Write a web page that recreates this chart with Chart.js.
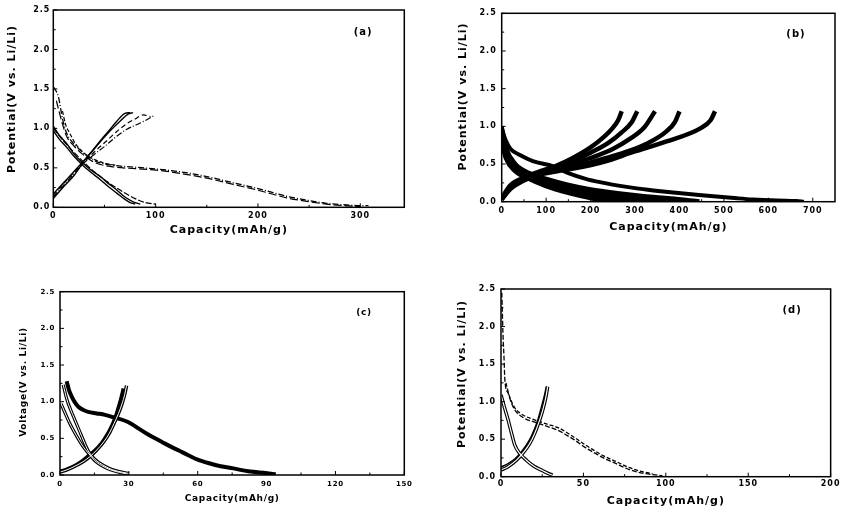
<!DOCTYPE html>
<html><head><meta charset="utf-8">
<script src="https://cdn.jsdelivr.net/npm/chart.js@4/dist/chart.umd.min.js"></script>
<style>
html,body{margin:0;padding:0;background:#fff;width:843px;height:510px;overflow:hidden;}
canvas{position:absolute;}
</style></head><body>
<canvas id="ca"></canvas><canvas id="cb"></canvas><canvas id="cc"></canvas><canvas id="cd"></canvas>
<script>
// ---------- tick values ----------
const yTicksAll = [0, 0.5, 1.0, 1.5, 2.0, 2.5];
const yMinorAll = [0.25, 0.75, 1.25, 1.75, 2.25];
const aXTicks = [0, 100, 200, 300];
const aXMinor = [50, 150, 250];
const bXTicks = [0, 100, 200, 300, 400, 500, 600, 700];
const bXMinor = [50, 150, 250, 350, 450, 550, 650];
const cXTicks = [0, 30, 60, 90, 120, 150];
const cXMinor = [15, 45, 75, 105, 135];
const dXTicks = [0, 50, 100, 150, 200];
const dXMinor = [25, 75, 125, 175];

// ---------- panel (a): [capacity mAh/g, potential V] ----------
const aDis1 = [[0.5,1.52],[5,1.4],[9,1.12],[13,0.94],[19,0.82],[26,0.73],[34,0.64],[42,0.58],[60,0.53],[78,0.51],[101,0.485],[124,0.45],[150,0.39],[176,0.31],[202,0.23],[228,0.14],[248,0.09],[267,0.05],[287,0.03],[300,0.02],[308,0.02]];
const aDis1b = [[3,1.35],[8,1.1],[13,0.9],[20,0.78],[28,0.68],[40,0.57],[60,0.51],[80,0.49],[101,0.47],[124,0.43],[150,0.37],[176,0.29],[202,0.21],[228,0.12],[248,0.075],[267,0.04],[285,0.02],[300,0.01]];
const aDis2 = [[9,1.22],[12,1.05],[16,0.94],[22,0.8],[29,0.7],[38,0.62],[50,0.56],[62,0.53]];
const aDis3 = [[0,1.03],[6,0.91],[13,0.81],[20,0.68],[29,0.56],[37,0.47],[46,0.39],[54,0.3],[62,0.22],[70,0.13],[78,0.07],[85,0.04]];
const aDis4 = [[0,0.97],[6,0.86],[13,0.76],[20,0.65],[29,0.53],[37,0.44],[46,0.35],[54,0.26],[62,0.18],[70,0.1],[75,0.06],[80,0.04]];
const aDis5 = [[0,1.0],[10,0.84],[20,0.7],[30,0.57],[40,0.45],[50,0.35],[60,0.26],[70,0.18],[80,0.11],[90,0.06],[100,0.04]];
const aChg1 = [[0,0.11],[10,0.26],[20,0.4],[26,0.51],[32,0.62],[39,0.73],[47,0.86],[55,0.98],[62,1.09],[70,1.19],[75,1.2]];
const aChg2 = [[0,0.17],[10,0.31],[20,0.45],[27,0.55],[34,0.65],[42,0.77],[50,0.89],[58,1.0],[66,1.1],[73,1.18],[78,1.2]];
const aChg3 = [[0,0.13],[10,0.28],[20,0.42],[30,0.56],[40,0.67],[50,0.77],[62,0.9],[72,0.99],[82,1.05],[90,1.1],[98,1.16]];
const aChg4 = [[0,0.15],[10,0.3],[20,0.44],[30,0.57],[40,0.7],[52,0.84],[62,0.96],[72,1.06],[80,1.12],[88,1.17],[95,1.15]];

// ---------- panel (b) ----------
const bDis1 = [[0,1.0],[2,0.95],[4,0.9],[10,0.8],[20,0.7],[41,0.62],[70,0.54],[116,0.47],[150,0.38],[191,0.3],[230,0.25],[266,0.21],[300,0.18],[341,0.15],[380,0.125],[415,0.105],[450,0.085],[490,0.065],[530,0.045],[565,0.03],[620,0.015],[663,0.008],[680,0.0]];
const bDis2 = [[0,0.95],[10,0.7],[30,0.5],[60,0.38],[100,0.3],[150,0.22],[200,0.16],[260,0.11],[320,0.07],[380,0.04],[445,0.0]];
const bDis3 = [[0,0.9],[10,0.66],[30,0.47],[60,0.36],[100,0.27],[150,0.19],[200,0.13],[260,0.08],[320,0.04],[370,0.0]];
const bDis4 = [[0,0.88],[10,0.63],[30,0.45],[60,0.35],[100,0.25],[150,0.16],[200,0.1],[260,0.05],[320,0.0]];
const bDis5 = [[0,0.85],[10,0.6],[30,0.43],[60,0.33],[100,0.23],[150,0.14],[200,0.08],[240,0.04],[280,0.0]];
const bDis6 = [[0,0.8],[10,0.58],[30,0.41],[60,0.31],[100,0.21],[150,0.12],[200,0.05],[235,0.0]];
const bChg1 = [[0,0.05],[20,0.22],[50,0.32],[80,0.39],[120,0.47],[160,0.58],[200,0.72],[230,0.86],[250,0.98],[262,1.08],[270,1.2]];
const bChg2 = [[0,0.04],[20,0.2],[50,0.31],[80,0.38],[120,0.45],[160,0.54],[200,0.65],[240,0.78],[270,0.92],[292,1.05],[305,1.2]];
const bChg3 = [[0,0.04],[20,0.19],[50,0.3],[80,0.37],[120,0.43],[160,0.5],[200,0.58],[250,0.7],[290,0.84],[320,0.98],[345,1.2]];
const bChg4 = [[0,0.03],[20,0.18],[50,0.29],[80,0.36],[130,0.42],[180,0.49],[230,0.57],[280,0.66],[330,0.78],[370,0.93],[390,1.06],[400,1.2]];
const bChg5 = [[0,0.03],[20,0.17],[50,0.28],[80,0.35],[130,0.41],[161,0.44],[230,0.53],[296,0.66],[371,0.8],[446,0.97],[470,1.08],[480,1.2]];

// ---------- panel (c) ----------
const cDisLong = [[2.9,1.28],[4,1.15],[5.1,1.07],[6.5,0.99],[8,0.93],[10,0.89],[12.3,0.86],[16,0.84],[19.6,0.82],[24,0.78],[28.3,0.74],[31,0.7],[34,0.64],[37.5,0.57],[41.4,0.5],[45,0.44],[48.7,0.38],[52,0.33],[55.9,0.27],[60,0.21],[65,0.16],[70,0.12],[75.5,0.09],[82,0.05],[90,0.025],[94,0.01]];
const cDisShort1 = [[1.4,1.23],[3,1.03],[4.5,0.9],[6.5,0.75],[8.5,0.6],[10.5,0.45],[12.3,0.33],[15,0.22],[19.6,0.12],[23,0.07],[26.9,0.04],[30,0.02]];
const cDisShort2 = [[0.5,0.97],[2,0.86],[4,0.72],[6,0.6],[8,0.49],[10,0.39],[12.3,0.3],[15,0.2],[18,0.13],[22,0.07],[26,0.035],[29,0.015]];
const cChg1 = [[0,0.05],[3,0.08],[6.5,0.13],[9.5,0.19],[12.3,0.26],[15,0.33],[18.2,0.44],[20.5,0.55],[22.5,0.67],[24,0.78],[25.4,0.92],[26.6,1.05],[27.6,1.18]];
const cChg2 = [[0,0.04],[3,0.07],[6.5,0.12],[10,0.18],[13,0.25],[16,0.34],[19,0.45],[21.5,0.57],[23.5,0.7],[25.5,0.84],[27,0.97],[28.2,1.1],[29,1.22]];

// ---------- panel (d) ----------
const dDisLong = [[0.5,2.45],[1.2,1.9],[1.8,1.6],[2.4,1.27],[4.4,1.11],[6.5,0.97],[9.4,0.86],[14,0.78],[21.4,0.72],[28,0.67],[35.3,0.61],[40,0.55],[45.3,0.48],[51,0.39],[57.3,0.31],[63,0.24],[69.3,0.18],[75,0.12],[81.3,0.07],[88,0.04],[95.2,0.02],[98,0.01]];
const dDisLong2 = [[3,1.25],[5,1.08],[8,0.93],[12,0.84],[20,0.76],[28,0.7],[35,0.65],[42,0.56],[48,0.47],[55,0.37],[62,0.28],[70,0.2],[78,0.12],[85,0.07],[92,0.04]];
const dDisShort = [[0,1.09],[2,0.93],[4.4,0.75],[6.5,0.57],[8.4,0.42],[11,0.32],[15.4,0.22],[20,0.14],[25.3,0.08],[28,0.05],[31.3,0.02]];
const dChg1 = [[0,0.09],[4,0.13],[9.4,0.22],[13.5,0.32],[17.4,0.44],[20.5,0.58],[23.4,0.75],[25.5,0.9],[27.4,1.08],[28.3,1.2]];
const dChg2 = [[0,0.13],[4,0.17],[9,0.25],[13,0.35],[17,0.48],[20,0.62],[22.5,0.77],[24.5,0.93],[26.3,1.08],[27.5,1.2]];

// ---------- helpers ----------
function ds(points, opts) {
  return Object.assign({
    data: points.map(p => ({x: p[0], y: p[1]})),
    showLine: true, pointRadius: 0, borderColor: '#000', borderWidth: 1.2,
    fill: false, cubicInterpolationMode: 'monotone', order: 2
  }, opts || {});
}
function dbl(points, wOuter, wInner, dash) {
  return [
    ds(points, {borderWidth: wOuter, order: 2, borderDash: dash || []}),
    ds(points, {borderWidth: wInner, borderColor: '#fff', order: 1})
  ];
}

const spacingPlugin = {
  id: 'spacing',
  beforeUpdate(chart) { chart.ctx.letterSpacing = chart.options.plugins.frame.spacing; },
  beforeDraw(chart) { chart.ctx.letterSpacing = chart.options.plugins.frame.spacing; }
};

const framePlugin = {
  id: 'frame',
  afterDraw(chart) {
    const c = chart.ctx, a = chart.chartArea, o = chart.options.plugins.frame;
    const xs = chart.scales.x, ys = chart.scales.y;
    c.save();
    c.strokeStyle = '#000';
    c.lineWidth = 1.5;
    c.strokeRect(a.left, a.top, a.right - a.left, a.bottom - a.top);
    c.lineWidth = 1;
    c.beginPath();
    o.xMajor.forEach(v => { const p = xs.getPixelForValue(v); c.moveTo(p, a.bottom); c.lineTo(p, a.bottom - 4); });
    o.xMinor.forEach(v => { const p = xs.getPixelForValue(v); c.moveTo(p, a.bottom); c.lineTo(p, a.bottom - 2.5); });
    o.yMajor.forEach(v => { const p = ys.getPixelForValue(v); c.moveTo(a.left, p); c.lineTo(a.left + 4, p); });
    o.yMinor.forEach(v => { const p = ys.getPixelForValue(v); c.moveTo(a.left, p); c.lineTo(a.left + 2.5, p); });
    c.stroke();
    c.fillStyle = '#000';
    c.textAlign = 'center'; c.textBaseline = 'middle';
    c.font = 'bold ' + o.labelSize + 'px "DejaVu Sans"';
    c.fillText(o.label, a.left + (a.right - a.left) * 0.883, a.top + (a.bottom - a.top) * 0.113);
    // vertical axis title
    c.font = 'bold ' + o.yTitleSize + 'px "DejaVu Sans"';
    c.translate(o.yTitleX, o.yTitleY);
    c.rotate(-Math.PI / 2);
    c.fillText(o.yTitle, 0, 0);
    c.restore();
  }
};

function panel(id, box, area, cfg) {
  const cv = document.getElementById(id);
  cv.style.left = box.x + 'px'; cv.style.top = box.y + 'px';
  cv.width = box.w; cv.height = box.h;
  cv.style.width = box.w + 'px'; cv.style.height = box.h + 'px';
  const tickFont = {family: '"DejaVu Sans"', weight: 'bold', size: cfg.tickSize};
  const titleFont = {family: '"DejaVu Sans"', weight: 'bold', size: cfg.titleSize, lineHeight: 1.2};
  new Chart(cv, {
    type: 'scatter',
    data: {datasets: cfg.datasets},
    options: {
      responsive: false, animation: false, devicePixelRatio: 1,
      layout: {padding: {left: 0, top: area.t - box.y, right: box.x + box.w - area.r, bottom: 0}},
      plugins: {
        legend: {display: false}, tooltip: {enabled: false},
        frame: {label: cfg.label, labelSize: cfg.labelSize, spacing: cfg.spacing,
                yTitle: cfg.yTitle, yTitleSize: cfg.titleSize, yTitleX: cfg.yTitleAt[0] - box.x, yTitleY: cfg.yTitleAt[1] - box.y,
                xMajor: cfg.xTicks, xMinor: cfg.xMinor, yMajor: yTicksAll, yMinor: yMinorAll}
      },
      scales: {
        x: {
          type: 'linear', min: 0, max: cfg.xMax,
          afterFit: s => { s.height = box.y + box.h - area.b; },
          afterBuildTicks: s => { s.ticks = cfg.xTicks.map(v => ({value: v})); },
          grid: {display: false, drawTicks: false}, border: {display: false},
          ticks: {padding: cfg.xTickPad, font: tickFont, color: '#000', maxRotation: 0, autoSkip: false, callback: v => String(v)},
          title: {display: true, text: 'Capacity(mAh/g)', font: titleFont, color: '#000', padding: {top: 0, bottom: cfg.xTitlePad}}
        },
        y: {
          type: 'linear', min: 0, max: 2.5,
          afterFit: s => { s.width = area.l - box.x; },
          afterBuildTicks: s => { s.ticks = yTicksAll.map(v => ({value: v})); },
          grid: {display: false, drawTicks: false}, border: {display: false},
          ticks: {padding: cfg.yTickPad, font: tickFont, color: '#000', autoSkip: false, callback: v => Number(v).toFixed(1)},
          title: {display: false}
        }
      }
    },
    plugins: [spacingPlugin, framePlugin]
  });
}

// ---------- panel (a) ----------
panel('ca', {x: 0, y: 0, w: 421, h: 245}, {l: 53.3, t: 10, r: 404.3, b: 207.3}, {
  xMax: 343, xTicks: aXTicks, xMinor: aXMinor, label: '(a)', labelSize: 10, spacing: '1px',
  tickSize: 8, titleSize: 11, xTickPad: 4, yTickPad: 3, xTitlePad: 8.4, yTitleAt: [12.5, 99],
  yTitle: 'Potential(V vs. Li/Li)',
  datasets: [
    ds(aDis1, {borderDash: [6, 2, 1, 2], borderWidth: 1.3}),
    ds(aDis1b, {borderDash: [8, 3], borderWidth: 1.2}),
    ds(aDis2, {borderDash: [4, 2], borderWidth: 1.2}),
    ds(aDis3, {borderWidth: 1.4}),
    ds(aDis4, {borderWidth: 1.4}),
    ds(aDis5, {borderDash: [6, 2], borderWidth: 1.2}),
    ds(aChg1, {borderWidth: 1.4}),
    ds(aChg2, {borderWidth: 1.4}),
    ds(aChg3, {borderDash: [6, 2, 1, 2], borderWidth: 1.2}),
    ds(aChg4, {borderDash: [5, 3], borderWidth: 1.2})
  ]
});

// ---------- panel (b) ----------
panel('cb', {x: 421, y: 0, w: 422, h: 245}, {l: 501.7, t: 13.3, r: 835, b: 201.7}, {
  xMax: 750, xTicks: bXTicks, xMinor: bXMinor, label: '(b)', labelSize: 10, spacing: '1px',
  tickSize: 8, titleSize: 11, xTickPad: 4.2, yTickPad: 5, xTitlePad: 11.7, yTitleAt: [463, 96.5],
  yTitle: 'Potential(V vs. Li/Li)',
  datasets: [
    ds(bDis1, {borderWidth: 4}),
    ds(bDis2, {borderWidth: 5}),
    ds(bDis3, {borderWidth: 5}),
    ds(bDis4, {borderWidth: 5}),
    ds(bDis5, {borderWidth: 5}),
    ds(bDis6, {borderWidth: 5}),
    ds(bChg1, {borderWidth: 4.5}),
    ds(bChg2, {borderWidth: 4.5}),
    ds(bChg3, {borderWidth: 4.5}),
    ds(bChg4, {borderWidth: 4.5}),
    ds(bChg5, {borderWidth: 4.5})
  ]
});

// ---------- panel (c) ----------
panel('cc', {x: 0, y: 255, w: 421, h: 255}, {l: 60, t: 291.7, r: 404.3, b: 475}, {
  xMax: 150, xTicks: cXTicks, xMinor: cXMinor, label: '(c)', labelSize: 9, spacing: '0.7px',
  tickSize: 7, titleSize: 9, xTickPad: 4.8, yTickPad: 5, xTitlePad: 5.6, yTitleAt: [23.5, 382],
  yTitle: 'Voltage(V vs. Li/Li)',
  datasets: [
    ds(cDisLong, {borderWidth: 4}),
    ...dbl(cDisShort1, 3.2, 1),
    ...dbl(cDisShort2, 3.2, 1),
    ds(cChg1, {borderWidth: 3.5}),
    ...dbl(cChg2, 3.5, 1)
  ]
});

// ---------- panel (d) ----------
panel('cd', {x: 421, y: 255, w: 422, h: 255}, {l: 501, t: 289, r: 835, b: 476.7}, {
  xMax: 200, xTicks: dXTicks, xMinor: dXMinor, label: '(d)', labelSize: 10, spacing: '1px',
  tickSize: 8, titleSize: 11, xTickPad: 2.5, yTickPad: 5, xTitlePad: 2.7, yTitleAt: [462, 374],
  yTitle: 'Potential(V vs. Li/Li)',
  datasets: [
    ds(dDisLong, {borderDash: [5, 2], borderWidth: 1.3}),
    ds(dDisLong2, {borderDash: [4, 2], borderWidth: 1.3}),
    ...dbl(dDisShort, 3.5, 1.2),
    ...dbl(dChg1, 3.5, 1.2),
    ds(dChg2, {borderWidth: 1.4})
  ]
});
</script>
</body></html>
